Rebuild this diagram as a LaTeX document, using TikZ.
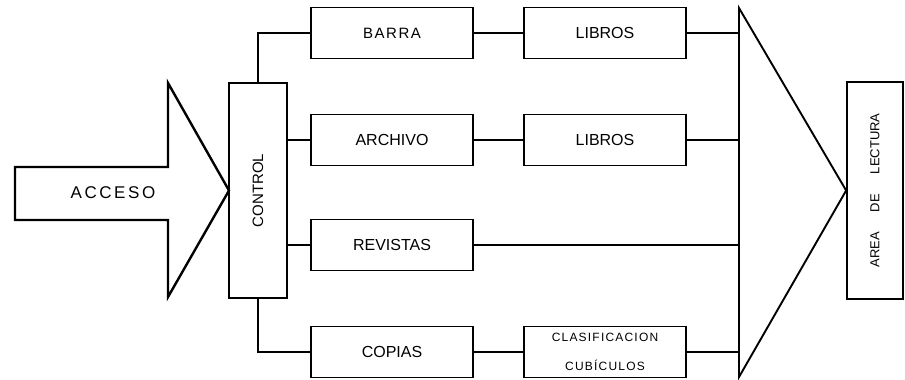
\documentclass[tikz,border=0pt]{standalone}
\usepackage{fontspec}
\setmainfont{Liberation Sans}
\newfontfamily\anchafont[LetterSpace=15]{Liberation Sans}
\newfontfamily\mediafont[LetterSpace=10]{Liberation Sans}
\begin{document}
\begin{tikzpicture}[x=1pt,y=-1pt,
  caja/.style={draw,line width=1.7pt,inner sep=0pt,minimum width=162pt,minimum height=51pt,font=\fontsize{16}{18}\selectfont},
  linea/.style={line width=1.7pt}]
  \useasboundingbox (0,0) rectangle (905,380);
  % ACCESO arrow
  \draw[line width=2.4pt,line join=miter] (15,167) -- (168,167) -- (168,83) -- (229,190.5) -- (168,297) -- (168,220) -- (15,220) -- cycle;
  \node[font={\anchafont\fontsize{17}{20}\selectfont}] (acceso) at (113,193) {ACCESO};
  % CONTROL
  \node[draw,line width=1.7pt,minimum width=58pt,minimum height=215pt] (control) at (258,190.5) {};
  \node[rotate=90,font=\fontsize{15}{18}\selectfont] at (control) {CONTROL};
  % first column
  \node[caja,font={\mediafont\fontsize{15}{17}\selectfont}] (barra) at (392,33) {BARRA};
  \node[caja] (archivo) at (392,140) {ARCHIVO};
  \node[caja] (revistas) at (392,245) {REVISTAS};
  \node[caja] (copias) at (392,352) {COPIAS};
  % second column
  \node[caja] (librosa) at (605,33) {LIBROS};
  \node[caja] (librosb) at (605,140) {LIBROS};
  \node[caja,align=center,font={\mediafont\fontsize{12}{29}\selectfont}] (clasif) at (605,352) {CLASIFICACION\\CUBÍCULOS};
  % AREA DE LECTURA
  \node[draw,line width=1.7pt,minimum width=56pt,minimum height=217pt] (area) at (875,190.5) {};
  \node[rotate=90,font=\fontsize{13}{16}\selectfont] at (area) {AREA\hspace{20pt}DE\hspace{20pt}LECTURA};
  % triangle
  \coordinate (basea) at (739,8);
  \coordinate (baseb) at (739,377);
  \draw[line width=1.9pt,line join=miter] (basea) -- (area.west) -- (baseb) -- cycle;
  % connectors
  \draw[linea] (control.north) |- (barra.west);
  \draw[linea] (archivo.west -| control.east) -- (archivo.west);
  \draw[linea] (revistas.west -| control.east) -- (revistas.west);
  \draw[linea] (control.south) |- (copias.west);
  \draw[linea] (barra) -- (librosa);
  \draw[linea] (archivo) -- (librosb);
  \draw[linea] (copias) -- (clasif);
  \draw[linea] (librosa.east) -- (librosa.east -| basea);
  \draw[linea] (librosb.east) -- (librosb.east -| basea);
  \draw[linea] (revistas.east) -- (revistas.east -| basea);
  \draw[linea] (clasif.east) -- (clasif.east -| basea);
\end{tikzpicture}
\end{document}
